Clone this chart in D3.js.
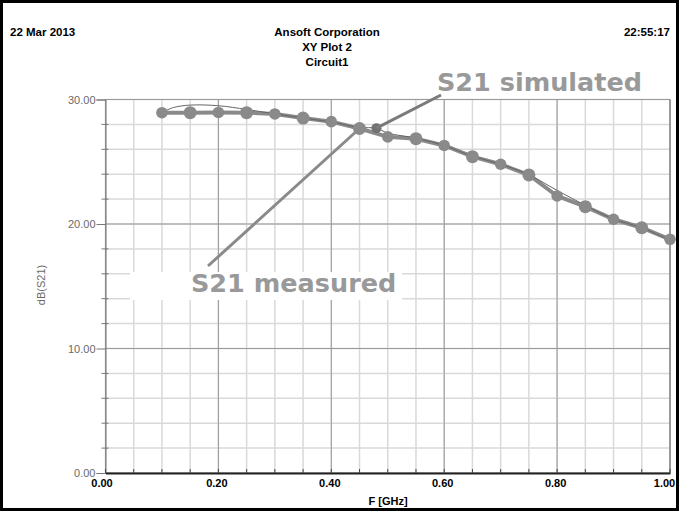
<!DOCTYPE html>
<html><head><meta charset="utf-8">
<script src="https://cdn.jsdelivr.net/npm/d3@7"></script>
<style>body{margin:0;background:#fff}svg{display:block}</style>
</head><body>
<svg id="c" width="679" height="511"></svg>
<script>
// ---- data ----
const freqMeasured = [0.10,0.15,0.20,0.25,0.30,0.35,0.40,0.45,0.50,0.55,0.60,0.65,0.70,0.75,0.80,0.85,0.90,0.95,1.00];
const dbMeasured   = [28.94,28.94,28.96,28.94,28.84,28.51,28.22,27.67,27.00,26.85,26.31,25.41,24.80,23.94,22.25,21.39,20.38,19.70,18.77];
const freqSimulated = [0.10,0.12,0.15,0.20,0.25,0.30,0.35,0.40,0.45,0.48,0.50,0.55,0.60,0.65,0.70,0.75,0.80,0.85,0.90,0.95,1.00];
const dbSimulated   = [28.95,29.35,29.55,29.50,29.20,28.85,28.50,28.20,27.75,27.70,27.30,26.90,26.30,25.45,24.80,23.95,22.70,21.50,20.40,19.70,18.70];
const xTicks = [0.00,0.20,0.40,0.60,0.80,1.00];
const yTicks = [0.00,10.00,20.00,30.00];
const headerLeft = "22 Mar 2013", headerRight = "22:55:17";
const titleLines = ["Ansoft Corporation","XY Plot 2","Circuit1"];

const svg = d3.select("#c");
const W = 679, H = 511;
const x = d3.scaleLinear().domain([0,1]).range([105.5,670]);
const y = d3.scaleLinear().domain([0,30]).range([473,99.5]);

// frame
svg.append("rect").attr("x",1.5).attr("y",1.5).attr("width",W-3).attr("height",H-3)
  .attr("fill","#fff").attr("stroke","#000").attr("stroke-width",3);

// header
const hf = "Liberation Sans, Arial, sans-serif";
svg.append("text").attr("x",10).attr("y",36).text(headerLeft)
  .attr("font-family",hf).attr("font-size",11.5).attr("font-weight","bold");
svg.append("text").attr("x",670).attr("y",36).attr("text-anchor","end").text(headerRight)
  .attr("font-family",hf).attr("font-size",11.5).attr("font-weight","bold");
titleLines.forEach((t,i)=>svg.append("text").attr("x",327).attr("y",36+i*15)
  .attr("text-anchor","middle").text(t)
  .attr("font-family",hf).attr("font-size",11.5).attr("font-weight","bold"));

// grid
const g = svg.append("g");
const minorX = d3.range(0,1.0001,0.05), minorY = d3.range(0,30.001,2);
g.selectAll(".mx").data(minorX).join("line")
  .attr("x1",d=>x(d)).attr("x2",d=>x(d)).attr("y1",y(30)).attr("y2",y(0))
  .attr("stroke","#d9d9d9").attr("stroke-width",1.5);
g.selectAll(".my").data(minorY).join("line")
  .attr("x1",x(0)).attr("x2",x(1)).attr("y1",d=>y(d)).attr("y2",d=>y(d))
  .attr("stroke","#d9d9d9").attr("stroke-width",1.5);
g.selectAll(".Mx").data(xTicks).join("line")
  .attr("x1",d=>x(d)).attr("x2",d=>x(d)).attr("y1",y(30)).attr("y2",y(0))
  .attr("stroke","#9a9a9a").attr("stroke-width",1);
g.selectAll(".My").data(yTicks).join("line")
  .attr("x1",x(0)).attr("x2",x(1)).attr("y1",d=>y(d)).attr("y2",d=>y(d))
  .attr("stroke","#9a9a9a").attr("stroke-width",1);

// white box behind measured label
svg.append("rect").attr("x",130).attr("y",272).attr("width",272).attr("height",28).attr("fill","#fff");

// axes
const yAxis = d3.axisLeft(y).tickValues(yTicks).tickFormat(d3.format(".2f")).tickSize(9).tickPadding(1);
const ya = svg.append("g").attr("transform",`translate(${x(0)},0)`).call(yAxis);
ya.select(".domain").attr("stroke","#777");
ya.selectAll(".tick line").attr("stroke","#777");
ya.selectAll("text").attr("font-family",hf).attr("font-size",11).attr("fill","#6a6a6a");
// y minor ticks
svg.selectAll(".ymt").data(minorY.filter(d=>d%10!==0)).join("line")
  .attr("x1",x(0)-4).attr("x2",x(0)+3).attr("y1",d=>y(d)).attr("y2",d=>y(d))
  .attr("stroke","#777");
// right border
svg.append("line").attr("x1",x(1)).attr("x2",x(1)).attr("y1",y(30)).attr("y2",y(0)).attr("stroke","#777");

const xAxis = d3.axisBottom(x).tickValues(xTicks).tickFormat(d3.format(".2f")).tickSize(0).tickPadding(6);
const xa = svg.append("g").attr("transform",`translate(0,${y(0)})`).call(xAxis);
xa.select(".domain").attr("stroke","#222").attr("stroke-width",2);
xa.selectAll("text").attr("font-family",hf).attr("font-size",11).attr("font-weight","bold").attr("fill","#000")
  .attr("dx",d=>d===1?-6:(d===0?-4:-2));
svg.selectAll(".xmt").data(minorX).join("line")
  .attr("x1",d=>x(d)).attr("x2",d=>x(d)).attr("y1",y(0)).attr("y2",y(0)-4).attr("stroke","#444");

svg.append("text").attr("x",388).attr("y",505).attr("text-anchor","middle").text("F [GHz]")
  .attr("font-family",hf).attr("font-size",11).attr("font-weight","bold");
svg.append("text").attr("transform","translate(45,285) rotate(-90)").attr("text-anchor","middle")
  .text("dB(S21)").attr("font-family",hf).attr("font-size",11).attr("fill","#6a6a6a");

// series
const meas = freqMeasured.map((f,i)=>[f,dbMeasured[i]]);
const sim = freqSimulated.map((f,i)=>[f,dbSimulated[i]]);
svg.append("path").datum(meas).attr("fill","none").attr("stroke","#8a8a8a").attr("stroke-width",4)
  .attr("d",d3.line().x(d=>x(d[0])).y(d=>y(d[1])));
svg.append("path").datum(sim).attr("fill","none").attr("stroke","#666").attr("stroke-width",1)
  .attr("d",d3.line().curve(d3.curveCatmullRom).x(d=>x(d[0])).y(d=>y(d[1])));
svg.selectAll(".pt").data(meas).join("circle")
  .attr("cx",d=>x(d[0])).attr("cy",d=>y(d[1])).attr("r",(d,i)=>i%2?6.5:5.8).attr("fill","#8a8a8a");

// simulated annotation marker
const simPt = sim[freqSimulated.indexOf(0.48)];
svg.append("circle").attr("cx",x(simPt[0])).attr("cy",y(simPt[1])).attr("r",5).attr("fill","#727272");

// annotation lines
const mPt = meas[freqMeasured.indexOf(0.45)];
svg.append("line").attr("x1",208).attr("y1",266).attr("x2",x(mPt[0])).attr("y2",y(mPt[1]))
  .attr("stroke","#8a8a8a").attr("stroke-width",3);
svg.append("line").attr("x1",441).attr("y1",95).attr("x2",x(simPt[0])).attr("y2",y(simPt[1]))
  .attr("stroke","#7a7a7a").attr("stroke-width",3);

const af = "DejaVu Sans, Verdana, sans-serif";
svg.append("text").attr("x",437).attr("y",91).text("S21 simulated")
  .attr("font-family",af).attr("font-size",25.5).attr("font-weight","bold").attr("fill","#999");
svg.append("text").attr("x",191).attr("y",292).text("S21 measured")
  .attr("font-family",af).attr("font-size",25.5).attr("font-weight","bold").attr("fill","#999");
</script>
</body></html>
